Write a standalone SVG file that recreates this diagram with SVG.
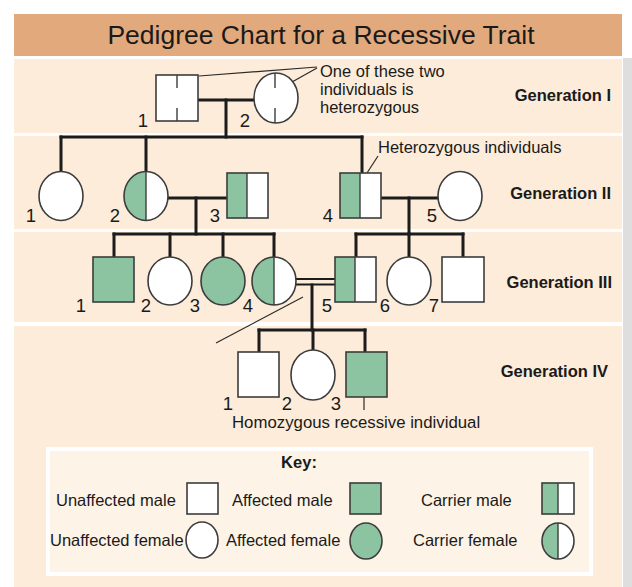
<svg xmlns="http://www.w3.org/2000/svg" width="632" height="587" viewBox="0 0 632 587">
<style>
.ln{stroke:#1c1c1c;stroke-width:3;fill:none;stroke-linecap:square}
.thin{stroke:#2a2a2a;stroke-width:1.2;fill:none}
.sh{stroke:#3c3c3c;stroke-width:1.6}
.u{fill:#ffffff}
.a{fill:#8cc3a1}
.t{font-family:"Liberation Sans",Arial,sans-serif;font-size:16.5px;fill:#1a1a1a}
.n{font-size:18.5px}
.b{font-weight:bold}
.tick{stroke:#3c3c3c;stroke-width:1.4}
</style>
<rect x="0" y="0" width="632" height="587" fill="#ffffff"/>
<rect x="623" y="58" width="9" height="529" fill="#dedede"/>
<rect x="14" y="14" width="608" height="42" fill="#e2a97c"/>
<rect x="14" y="59" width="608" height="74" fill="#fcecd9"/>
<rect x="14" y="136" width="608" height="93" fill="#fcecd9"/>
<rect x="14" y="232" width="608" height="90" fill="#fcecd9"/>
<rect x="14" y="326" width="608" height="261" fill="#fcecd9"/>
<text class="t" x="321" y="44" text-anchor="middle" style="font-size:26.5px">Pedigree Chart for a Recessive Trait</text>

<g id="connectors">
<line class="ln" x1="198" y1="100" x2="254" y2="100"/>
<line class="ln" x1="226" y1="100" x2="226" y2="137"/>
<line class="ln" x1="61" y1="137" x2="362" y2="137"/>
<line class="ln" x1="61" y1="137" x2="61" y2="171"/>
<line class="ln" x1="146" y1="137" x2="146" y2="171"/>
<line class="ln" x1="362" y1="137" x2="362" y2="172"/>
<line class="ln" x1="168" y1="198" x2="227" y2="198"/>
<line class="ln" x1="196" y1="198" x2="196" y2="234"/>
<line class="ln" x1="381" y1="198" x2="438" y2="198"/>
<line class="ln" x1="409" y1="198" x2="409" y2="234"/>
<line class="ln" x1="114" y1="234" x2="274" y2="234"/>
<line class="ln" x1="114" y1="234" x2="114" y2="256"/>
<line class="ln" x1="170" y1="234" x2="170" y2="256"/>
<line class="ln" x1="223" y1="234" x2="223" y2="256"/>
<line class="ln" x1="274" y1="234" x2="274" y2="256"/>
<line class="ln" x1="356" y1="234" x2="463" y2="234"/>
<line class="ln" x1="356" y1="234" x2="356" y2="256"/>
<line class="ln" x1="409" y1="234" x2="409" y2="256"/>
<line class="ln" x1="463" y1="234" x2="463" y2="256"/>
<line x1="296" y1="279" x2="335" y2="279" stroke="#1c1c1c" stroke-width="2"/>
<line x1="296" y1="284.5" x2="335" y2="284.5" stroke="#1c1c1c" stroke-width="2"/>
<line class="ln" x1="312" y1="285" x2="312" y2="330"/>
<line class="ln" x1="259" y1="330" x2="365" y2="330"/>
<line class="ln" x1="259" y1="330" x2="259" y2="351"/>
<line class="ln" x1="313" y1="330" x2="313" y2="349"/>
<line class="ln" x1="365" y1="330" x2="365" y2="351"/>
<line class="thin" x1="216" y1="343" x2="303" y2="297"/>
<line class="thin" x1="199" y1="76" x2="317" y2="67"/>
<line class="thin" x1="292" y1="82" x2="317" y2="68"/>
<line class="thin" x1="367" y1="173" x2="378" y2="156"/>
<line class="thin" x1="364" y1="389" x2="364" y2="410"/>
</g>

<g id="I-1">
<rect class="sh u" x="156" y="75" width="42" height="46"/>
<line class="tick" x1="177" y1="75" x2="177" y2="88"/>
<line class="tick" x1="177" y1="108" x2="177" y2="121"/>
<text class="t n" x="143" y="127" text-anchor="middle">1</text>
</g>
<g id="I-2">
<ellipse class="sh u" cx="276" cy="98" rx="22" ry="25"/>
<line class="tick" x1="275" y1="73" x2="275" y2="88"/>
<line class="tick" x1="275" y1="108" x2="275" y2="123"/>
<text class="t n" x="245" y="127" text-anchor="middle">2</text>
</g>
<g id="note-I">
<text class="t" x="320" y="77">One of these two</text>
<text class="t" x="320" y="95">individuals is</text>
<text class="t" x="320" y="113">heterozygous</text>
</g>
<text class="t b" x="611" y="101" text-anchor="end">Generation I</text>

<g id="II-1">
<ellipse class="sh u" cx="61" cy="196" rx="22" ry="24.5"/>
<text class="t n" x="31" y="222" text-anchor="middle">1</text>
</g>
<g id="II-2">
<ellipse class="u" cx="146" cy="196" rx="22" ry="24.5"/>
<path class="a" d="M146 171.5 A22 24.5 0 0 0 146 220.5 Z"/>
<line class="tick" x1="146" y1="171.5" x2="146" y2="220.5"/>
<ellipse class="sh" fill="none" cx="146" cy="196" rx="22" ry="24.5"/>
<text class="t n" x="115" y="222" text-anchor="middle">2</text>
</g>
<g id="II-3">
<rect class="u" x="227" y="173" width="41" height="45"/>
<rect class="a" x="227" y="173" width="20" height="45"/>
<line class="tick" x1="247" y1="173" x2="247" y2="218"/>
<rect class="sh" fill="none" x="227" y="173" width="41" height="45"/>
<text class="t n" x="215" y="222" text-anchor="middle">3</text>
</g>
<g id="II-4">
<rect class="u" x="340" y="173" width="41" height="45"/>
<rect class="a" x="340" y="173" width="20" height="45"/>
<line class="tick" x1="360" y1="173" x2="360" y2="218"/>
<rect class="sh" fill="none" x="340" y="173" width="41" height="45"/>
<text class="t n" x="328" y="222" text-anchor="middle">4</text>
</g>
<g id="II-5">
<ellipse class="sh u" cx="460" cy="196" rx="22" ry="24.5"/>
<text class="t n" x="432" y="222" text-anchor="middle">5</text>
</g>
<text class="t" x="378" y="153">Heterozygous individuals</text>
<text class="t b" x="611" y="199" text-anchor="end">Generation II</text>

<g id="III-1">
<rect class="sh a" x="93" y="257" width="41" height="45"/>
<text class="t n" x="81" y="312" text-anchor="middle">1</text>
</g>
<g id="III-2">
<ellipse class="sh u" cx="170" cy="281" rx="22" ry="24"/>
<text class="t n" x="146" y="312" text-anchor="middle">2</text>
</g>
<g id="III-3">
<ellipse class="sh a" cx="223" cy="281" rx="22" ry="24"/>
<text class="t n" x="195" y="312" text-anchor="middle">3</text>
</g>
<g id="III-4">
<ellipse class="u" cx="274" cy="281" rx="22" ry="24"/>
<path class="a" d="M274 257 A22 24 0 0 0 274 305 Z"/>
<line class="tick" x1="274" y1="257" x2="274" y2="305"/>
<ellipse class="sh" fill="none" cx="274" cy="281" rx="22" ry="24"/>
<text class="t n" x="248" y="312" text-anchor="middle">4</text>
</g>
<g id="III-5">
<rect class="u" x="335" y="257" width="41" height="45"/>
<rect class="a" x="335" y="257" width="20" height="45"/>
<line class="tick" x1="355" y1="257" x2="355" y2="302"/>
<rect class="sh" fill="none" x="335" y="257" width="41" height="45"/>
<text class="t n" x="327" y="312" text-anchor="middle">5</text>
</g>
<g id="III-6">
<ellipse class="sh u" cx="409" cy="281" rx="22" ry="24"/>
<text class="t n" x="385" y="312" text-anchor="middle">6</text>
</g>
<g id="III-7">
<rect class="sh u" x="442" y="257" width="42" height="45"/>
<text class="t n" x="434" y="312" text-anchor="middle">7</text>
</g>
<text class="t b" x="612" y="288" text-anchor="end">Generation III</text>

<g id="IV-1">
<rect class="sh u" x="238" y="352" width="41" height="45"/>
<text class="t n" x="228" y="410" text-anchor="middle">1</text>
</g>
<g id="IV-2">
<ellipse class="sh u" cx="313" cy="375" rx="22" ry="25"/>
<text class="t n" x="287" y="410" text-anchor="middle">2</text>
</g>
<g id="IV-3">
<rect class="sh a" x="346" y="352" width="41" height="45"/>
<text class="t n" x="336" y="410" text-anchor="middle">3</text>
</g>
<text class="t" x="232" y="428" style="font-size:16.8px">Homozygous recessive individual</text>
<text class="t b" x="608" y="377" text-anchor="end">Generation IV</text>

<g id="key">
<rect x="48" y="449" width="543" height="125" fill="#fdf3e6" stroke="#ffffff" stroke-width="4"/>
<text class="t b" x="299" y="468" text-anchor="middle">Key:</text>
<text class="t" x="56" y="506">Unaffected male</text>
<rect class="sh u" x="187" y="483" width="31" height="31"/>
<text class="t" x="232" y="506">Affected male</text>
<rect class="sh a" x="350" y="483" width="31" height="31"/>
<text class="t" x="421" y="506">Carrier male</text>
<rect class="u" x="542" y="483" width="32" height="31"/>
<rect class="a" x="542" y="483" width="16" height="31"/>
<line class="tick" x1="558" y1="483" x2="558" y2="514"/>
<rect class="sh" fill="none" x="542" y="483" width="32" height="31"/>
<text class="t" x="50" y="546">Unaffected female</text>
<ellipse class="sh u" cx="202" cy="540" rx="16" ry="18"/>
<text class="t" x="226" y="546">Affected female</text>
<ellipse class="sh a" cx="366" cy="541" rx="16" ry="18"/>
<text class="t" x="413" y="546">Carrier female</text>
<ellipse class="u" cx="558" cy="541" rx="16" ry="18"/>
<path class="a" d="M558 523 A16 18 0 0 0 558 559 Z"/>
<line class="tick" x1="558" y1="523" x2="558" y2="559"/>
<ellipse class="sh" fill="none" cx="558" cy="541" rx="16" ry="18"/>
</g>
</svg>
